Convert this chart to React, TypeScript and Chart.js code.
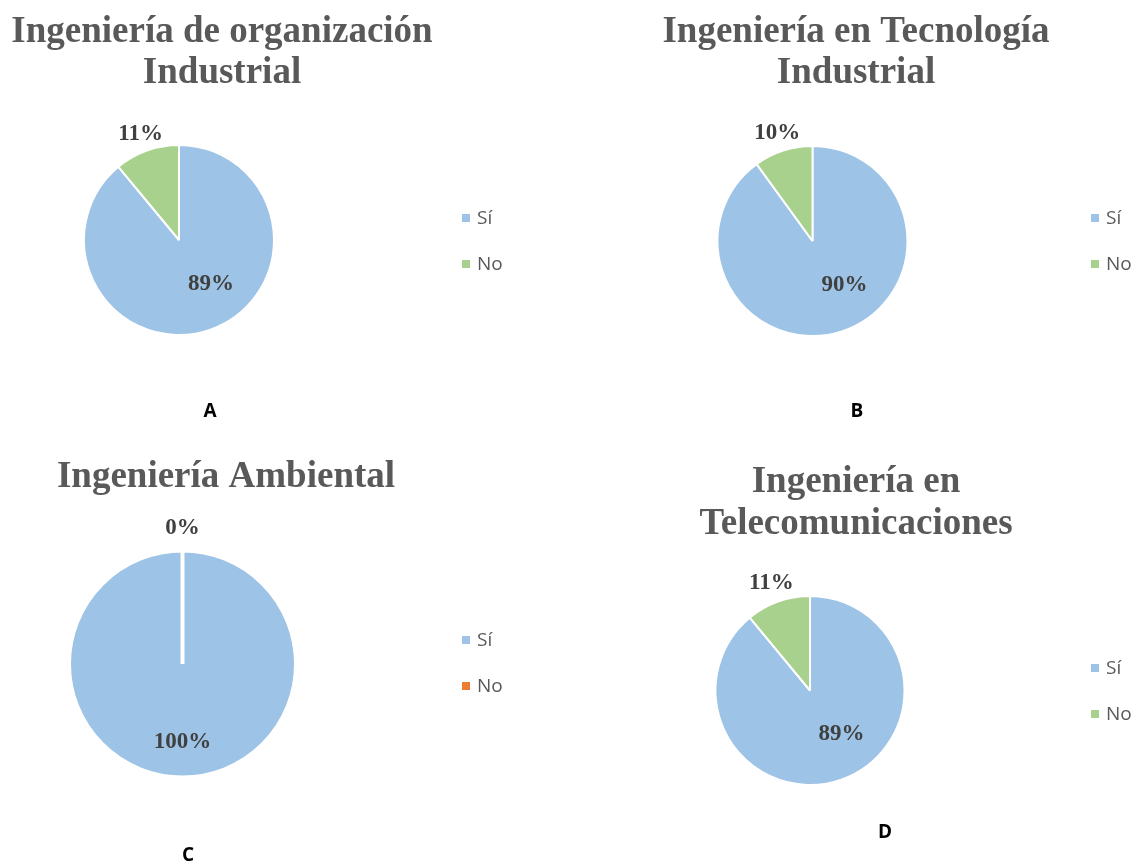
import React, { useEffect, useRef } from 'react';
import { Chart, registerables } from 'chart.js';

Chart.register(...registerables);

// ---------- data ----------
const categories = ['Sí', 'No'];
const titleA = ['Ingeniería de organización', 'Industrial'];
const titleB = ['Ingeniería en Tecnología', 'Industrial'];
const titleC = ['Ingeniería Ambiental'];
const titleD = ['Ingeniería en', 'Telecomunicaciones'];
const valuesA = [89, 11];
const valuesB = [90, 10];
const valuesC = [100, 0];
const valuesD = [89, 11];
const panelLetters = ['A', 'B', 'C', 'D'];

// ---------- styles ----------
const BLUE = '#9DC3E6';
const GREEN = '#A9D18E';
const ORANGE = '#ED7D31';
const W = 1141;
const H = 865;

type Panel = {
  title: string[];
  values: number[];
  letter: string;
  colors: string[];
  cx: number; cy: number; r: number; bw: number;
  titleX: number; titleY: number[];
  legendX: number; legendY: number[];
  letterX: number; letterY: number;
  innerShift: number; innerFrac: number; outerFrac: number;
};

const panels: Panel[] = [
  { title: titleA, values: valuesA, letter: panelLetters[0], colors: [BLUE, GREEN],
    cx: 179, cy: 240, r: 95, bw: 2, titleX: 222, titleY: [42, 83],
    legendX: 462, legendY: [218, 264], letterX: 210, letterY: 412,
    innerShift: -16, innerFrac: 0.574, outerFrac: 1.19 },
  { title: titleB, values: valuesB, letter: panelLetters[1], colors: [BLUE, GREEN],
    cx: 812.5, cy: 241, r: 95, bw: 2, titleX: 856, titleY: [42, 83],
    legendX: 1091, legendY: [218, 264], letterX: 857, letterY: 412,
    innerShift: -18, innerFrac: 0.575, outerFrac: 1.2 },
  { title: titleC, values: valuesC, letter: panelLetters[2], colors: [BLUE, ORANGE],
    cx: 182.5, cy: 664, r: 113.5, bw: 4, titleX: 226, titleY: [487],
    legendX: 462, legendY: [640, 686], letterX: 188, letterY: 856,
    innerShift: 0, innerFrac: 0.69, outerFrac: 1.2 },
  { title: titleD, values: valuesD, letter: panelLetters[3], colors: [BLUE, GREEN],
    cx: 810, cy: 690.5, r: 94.5, bw: 2, titleX: 856, titleY: [492, 534],
    legendX: 1091, legendY: [668, 714], letterX: 885, letterY: 833,
    innerShift: -16, innerFrac: 0.57, outerFrac: 1.21 },
];

const panelPlugin = {
  id: 'panelDecor',
  afterDraw(chart: any) {
    const p: Panel = chart.options.plugins.panelDecor.panel;
    const ctx = chart.ctx;
    ctx.save();
    // title
    ctx.font = 'bold 37px "Liberation Serif"';
    ctx.fillStyle = '#595959';
    ctx.textAlign = 'center';
    ctx.textBaseline = 'alphabetic';
    p.title.forEach((t, i) => ctx.fillText(t, p.titleX, p.titleY[i]));

    // data labels
    const ds = chart.data.datasets[0];
    const data: number[] = ds.data;
    const total = data.reduce((a, b) => a + b, 0);
    const meta = chart.getDatasetMeta(0);
    ctx.font = 'bold 23px "Liberation Serif"';
    ctx.fillStyle = '#404040';
    ctx.textBaseline = 'middle';
    meta.data.forEach((arc: any, i: number) => {
      const { startAngle, endAngle, outerRadius, x, y } = arc.getProps(
        ['startAngle', 'endAngle', 'outerRadius', 'x', 'y'], true);
      const share = data[i] / total;
      let ang = (startAngle + endAngle) / 2;
      let dist;
      if (share < 0.5) {
        dist = outerRadius * p.outerFrac;
      } else {
        ang += (p.innerShift * Math.PI) / 180;
        dist = outerRadius * p.innerFrac;
      }
      const txt = Math.round(share * 100) + '%';
      ctx.fillText(txt, x + Math.cos(ang) * dist, y + Math.sin(ang) * dist);
    });

    // legend
    ctx.font = '19px "Open Sans"';
    ctx.textAlign = 'left';
    ctx.textBaseline = 'middle';
    chart.data.labels.forEach((lab: string, i: number) => {
      const yy = p.legendY[i];
      ctx.fillStyle = ds.backgroundColor[i];
      ctx.fillRect(p.legendX, yy - 4, 8, 8);
      ctx.fillStyle = '#595959';
      ctx.fillText(lab, p.legendX + 15, yy + 1);
    });

    // panel letter
    ctx.font = 'bold 19px "Open Sans"';
    ctx.fillStyle = '#000000';
    ctx.textAlign = 'center';
    ctx.fillText(p.letter, p.letterX, p.letterY);
    ctx.restore();
  },
};

function PieCanvas({ panel }: { panel: Panel }) {
  const ref = useRef<HTMLCanvasElement | null>(null);
  useEffect(() => {
    if (!ref.current) return;
    const half = panel.r + panel.bw / 2;
    const chart = new Chart(ref.current, {
      type: 'pie',
      data: {
        labels: categories,
        datasets: [{
          data: panel.values,
          backgroundColor: panel.colors,
          borderColor: '#ffffff',
          borderWidth: panel.bw,
        }],
      },
      options: {
        responsive: false,
        animation: false,
        events: [],
        layout: {
          padding: {
            left: panel.cx - half,
            top: panel.cy - half,
            right: W - (panel.cx + half),
            bottom: H - (panel.cy + half),
          },
        },
        plugins: {
          legend: { display: false },
          title: { display: false },
          tooltip: { enabled: false },
          // @ts-ignore
          panelDecor: { panel },
        },
      },
      plugins: [panelPlugin],
    } as any);
    return () => chart.destroy();
  }, [panel]);
  return (
    <canvas
      ref={ref}
      width={W}
      height={H}
      style={{ position: 'absolute', left: 0, top: 0, width: W, height: H }}
    />
  );
}

export default function App() {
  return (
    <div style={{ position: 'absolute', left: 0, top: 0, width: W, height: H, background: '#ffffff' }}>
      {panels.map((p, i) => (
        <PieCanvas key={i} panel={p} />
      ))}
    </div>
  );
}
